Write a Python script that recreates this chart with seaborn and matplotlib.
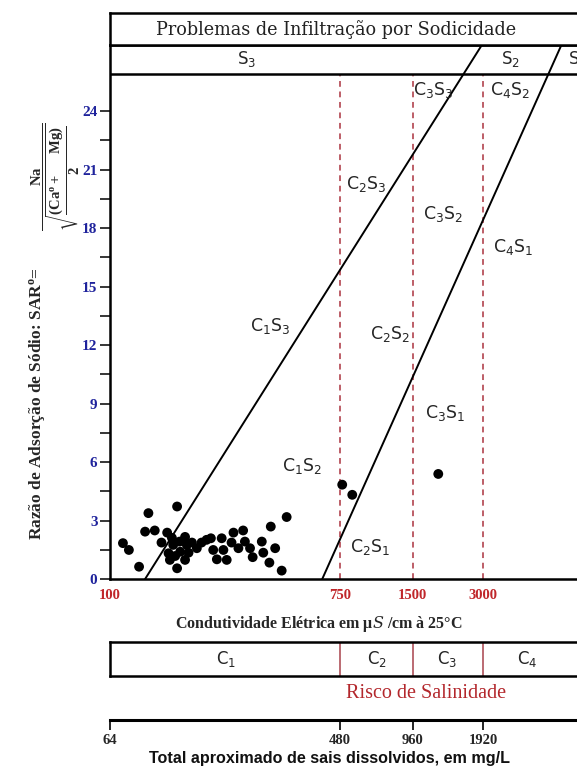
import numpy as np
import pandas as pd
import matplotlib
matplotlib.use("Agg")
import matplotlib.pyplot as plt
import seaborn as sns

# ---------------- data ----------------
ec_values = [112, 118, 129, 140, 136, 148, 180, 165, 157, 167,
             169, 180, 174, 184, 185, 177, 196, 205, 199, 193,
             214, 223, 233, 242, 247, 255, 266, 270, 278, 290,
             295, 308, 321, 326, 341, 349, 378, 383, 404, 409,
             425, 450, 470, 172, 193, 766, 843, 1928]
sar_values = [1.84, 1.49, 0.63, 3.38, 2.43, 2.49, 3.72, 2.38, 1.87, 1.32,
              0.98, 0.55, 1.75, 1.92, 1.40, 1.18, 1.75, 1.87, 1.35, 0.98,
              1.58, 1.87, 2.01, 2.09, 1.49, 1.01, 2.09, 1.49, 0.98, 1.87,
              2.38, 1.58, 2.49, 1.92, 1.58, 1.12, 1.92, 1.35, 0.84, 2.69,
              1.58, 0.43, 3.18, 2.11, 2.16, 4.84, 4.32, 5.39]

ec_ticks = [100, 750, 1500, 3000]
sar_ticks = [0, 3, 6, 9, 12, 15, 18, 21, 24]
tds_ticks = [64, 480, 960, 1920]
salinity_bounds = [750, 1500, 3000]
salinity_labels = ["C$_1$", "C$_2$", "C$_3$", "C$_4$"]
salinity_label_ec = [276, 1068, 2111, 4608]
sodium_labels = ["S$_3$", "S$_2$", "S$_1$"]
sodium_label_ec = [331, 3900, 7600]
# sloped boundary lines: two (EC, SAR) points each
boundary_a = [(136, 0.0), (2465, 25.89)]
boundary_b = [(642, 0.0), (5675, 25.89)]
region_labels = ["C$_1$S$_3$", "C$_2$S$_3$", "C$_3$S$_3$", "C$_4$S$_2$", "C$_3$S$_2$",
                 "C$_4$S$_1$", "C$_2$S$_2$", "C$_1$S$_2$", "C$_3$S$_1$", "C$_2$S$_1$"]
region_ec = [406, 967, 1836, 3900, 2026, 4027, 1208, 536, 2060, 998]
region_sar = [12.98, 20.28, 25.08, 25.08, 18.73, 17.02, 12.56, 5.78, 8.53, 1.66]
tds_factor = 0.64

# ---------------- custom EC scale (as in the diagram) ----------------
_lk = [2.0, np.log10(750), np.log10(1500), np.log10(3000)]
_pk = [0.0, 230.0, 302.7, 373.3]
_slo = (_pk[1] - _pk[0]) / (_lk[1] - _lk[0])
_shi = (_pk[3] - _pk[2]) / (_lk[3] - _lk[2])
LOGK = np.array([-4.0] + _lk + [10.0])
POSK = np.array([_pk[0] - _slo * 6.0] + _pk + [_pk[3] + _shi * (10.0 - _lk[3])])


def fwd(x):
    x = np.asarray(x, dtype=float)
    return np.interp(np.log10(np.clip(x, 1e-4, 1e10)), LOGK, POSK)


def inv(p):
    p = np.asarray(p, dtype=float)
    return 10 ** np.interp(p, POSK, LOGK)


def fwd_tds(t):
    return fwd(np.asarray(t, dtype=float) / tds_factor)


def inv_tds(p):
    return inv(p) * tds_factor


sns.set_style("white")
plt.rcParams["font.family"] = ["DejaVu Sans"]
plt.rcParams["mathtext.default"] = "regular"
plt.rcParams["mathtext.fontset"] = "dejavuserif"

W, H = 577, 770
fig = plt.figure(figsize=(W / 100, H / 100), dpi=100)


def px_x(x):
    return x / W


def px_y(y):
    return 1 - y / H


L = 110
R = 620
Y0 = 579
YTOP = 45
ax = fig.add_axes([px_x(L), px_y(Y0), (R - L) / W, (Y0 - YTOP) / H])
ax.set_xscale("function", functions=(fwd, inv))
x_right = float(inv(R - L))
ax.set_xlim(100, x_right)
ax.set_ylim(0, 27.4)

df = pd.DataFrame({"EC": ec_values, "SAR": sar_values})
sns.scatterplot(data=df, x="EC", y="SAR", ax=ax, color="black", s=50,
                edgecolor="none", linewidth=0, zorder=5, legend=False)

# plot top (bottom of S row)
plot_top = 25.89
ax.axhline(plot_top, color="black", lw=1.8, zorder=6)
# dashed salinity boundaries
dash_col = "#b8525c"
ax.vlines(salinity_bounds, 0, plot_top, colors=dash_col, lw=1.3,
          linestyles=(0, (3.2, 2.6)), zorder=2)
# sloped boundaries
for b in (boundary_a, boundary_b):
    ax.axline(b[0], b[1], color="black", lw=1.4, zorder=4)

# region labels
for lab, xe, ys in zip(region_labels, region_ec, region_sar):
    ax.text(xe, ys, lab, ha="center", va="center", fontsize=12.5,
            family="DejaVu Sans", zorder=7)
# S row labels
for lab, xe in zip(sodium_labels, sodium_label_ec):
    ax.text(xe, (plot_top + 27.4) / 2 + 0.05, lab, ha="center", va="center",
            fontsize=12, family="DejaVu Sans")

for s in ["left", "bottom", "top"]:
    ax.spines[s].set_visible(True)
    ax.spines[s].set_color("black")
    ax.spines[s].set_linewidth(1.8)
ax.spines["right"].set_visible(False)

ax.set_xticks(ec_ticks)
ax.set_xticklabels([str(v) for v in ec_ticks])
ax.xaxis.set_minor_locator(matplotlib.ticker.NullLocator())
ax.tick_params(axis="x", which="both", length=0, pad=7, labelsize=10.5,
               labelcolor="#c0262a", bottom=True)
for t in ax.get_xticklabels():
    t.set_fontfamily("Liberation Serif")
    t.set_fontweight("bold")

ax.set_yticks(sar_ticks)
ax.set_yticklabels([str(v) for v in sar_ticks])
ax.set_yticks([1.5 + 3 * i for i in range(8)], minor=True)
ax.tick_params(axis="y", which="both", direction="out", length=7, width=1.1,
               color="black", left=True, labelsize=11, labelcolor="#1f239c", pad=2)
for t in ax.get_yticklabels():
    t.set_fontfamily("Liberation Serif")
    t.set_fontweight("bold")
ax.set_xlabel("")
ax.set_ylabel("")

# ---------------- header (title row) ----------------
axh = fig.add_axes([px_x(L), px_y(YTOP), (R - L) / W, (YTOP - 12.7) / H])
axh.set_xticks([])
axh.set_yticks([])
for s in axh.spines.values():
    s.set_visible(True)
    s.set_color("black")
    s.set_linewidth(1.8)
axh.text((336 - L) / (R - L), 0.48, "Problemas de Infiltração por Sodicidade",
         transform=axh.transAxes, ha="center", va="center", fontsize=12.7,
         family="DejaVu Serif", color="#222222")

# ---------------- salinity box ----------------
axc = fig.add_axes([px_x(L), px_y(676), (R - L) / W, 34 / H], sharex=ax)
axc.set_ylim(0, 1)
axc.vlines(salinity_bounds, 0, 1, colors="#a8434b", lw=1.1)
for lab, xe in zip(salinity_labels, salinity_label_ec):
    axc.text(xe, 0.5, lab, ha="center", va="center", fontsize=12,
             family="DejaVu Sans")
axc.tick_params(axis="both", which="both", length=0, labelbottom=False,
                labelleft=False, bottom=False, left=False)
axc.set_yticks([])
for s in axc.spines.values():
    s.set_visible(True)
    s.set_color("black")
    s.set_linewidth(1.8)

fig.text(px_x(426), px_y(694), "Risco de Salinidade", ha="center", va="center",
         fontsize=14.5, family="Liberation Serif", color="#b3272c")

# ---------------- TDS axis ----------------
ax2 = ax.twiny()
ax2.set_xscale("function", functions=(fwd_tds, inv_tds))
ax2.set_xlim(100 * tds_factor, x_right * tds_factor)
ax2.spines["bottom"].set_position(("axes", -(720 - Y0) / (Y0 - YTOP)))
ax2.spines["bottom"].set_visible(True)
ax2.spines["bottom"].set_linewidth(2.2)
ax2.spines["bottom"].set_color("black")
for s in ["top", "left", "right"]:
    ax2.spines[s].set_visible(False)
ax2.xaxis.set_ticks_position("bottom")
ax2.set_xticks(tds_ticks)
ax2.set_xticklabels([str(v) for v in tds_ticks])
ax2.xaxis.set_minor_locator(matplotlib.ticker.NullLocator())
ax2.tick_params(axis="x", which="major", direction="out", length=7, width=1.2,
                color="black", labelsize=10.5, pad=3, bottom=True, top=False)
for t in ax2.get_xticklabels():
    t.set_fontfamily("Liberation Serif")
    t.set_fontweight("bold")

# ---------------- axis titles ----------------
fig.text(px_x(319), px_y(624), r"Condutividade Elétrica em μ$\mathit{S}$ /cm à 25°C",
         ha="center", va="center", fontsize=11.5, fontweight="bold",
         family="Liberation Serif")
fig.text(px_x(330), px_y(758), "Total aproximado de sais dissolvidos, em mg/L",
         ha="center", va="center", fontsize=11.6, fontweight="bold",
         family="Liberation Sans", color="#111111")
fig.text(px_x(37), px_y(540), "Razão de Adsorção de Sódio: SAR$^{o}$=",
         rotation=90, ha="center", va="bottom", fontsize=12.5, fontweight="bold",
         family="Liberation Serif")
fig.text(px_x(55), px_y(177), r"$\dfrac{Na}{\sqrt{\dfrac{(Ca^{o}+\ \ \ \ Mg)}{2}}}$",
         rotation=90, ha="center", va="center", fontsize=10.5, fontweight="bold",
         family="Liberation Serif")

fig.savefig("out.png", dpi=100)
